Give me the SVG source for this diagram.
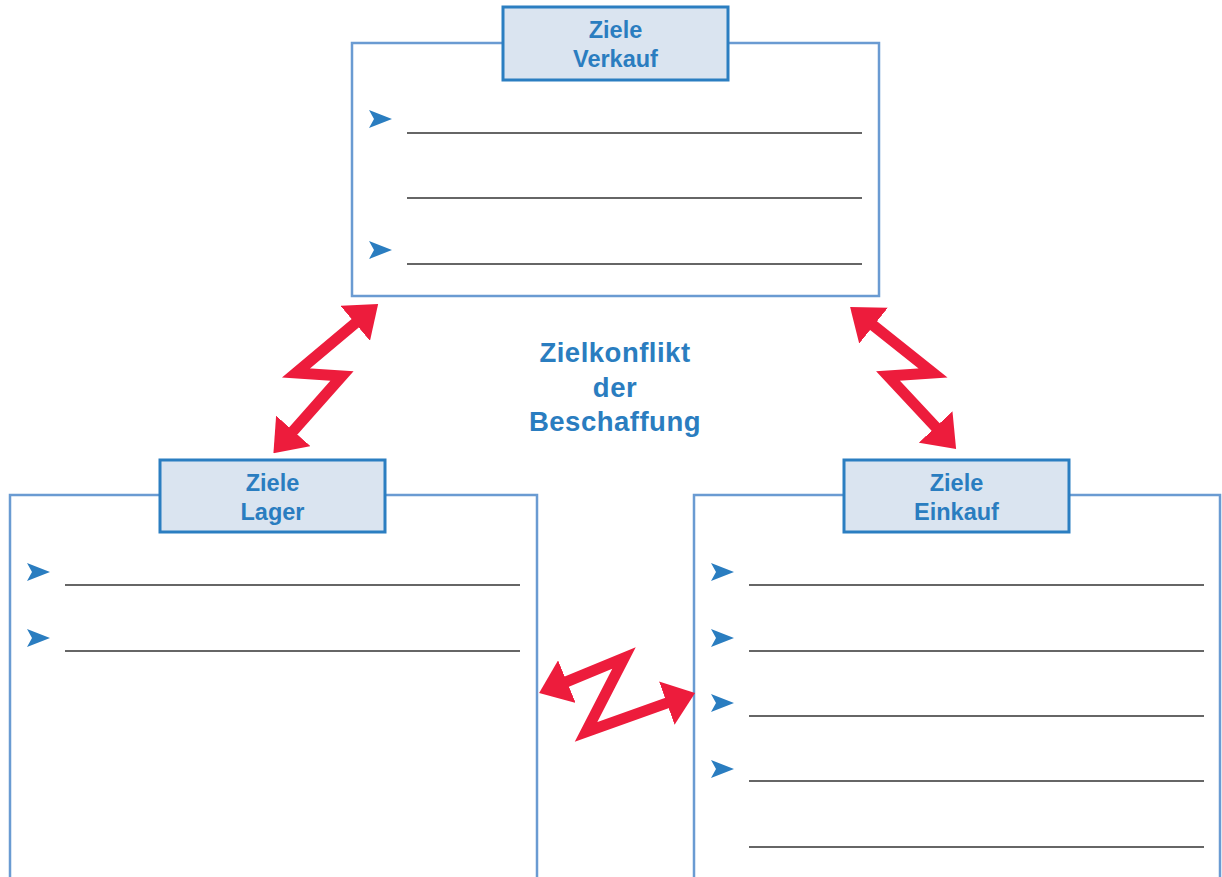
<svg xmlns="http://www.w3.org/2000/svg" xmlns:xlink="http://www.w3.org/1999/xlink" width="1222" height="877" viewBox="0 0 1222 877">
<style>
.box{fill:#ffffff;stroke:#6a9bd2;stroke-width:2.5}
.hdr{fill:#dae4f0;stroke:#2b7ec1;stroke-width:3}
.ht{font-family:"Liberation Sans",Arial,sans-serif;font-weight:bold;font-size:23.5px;fill:#2a7dc0;text-anchor:middle}
.ct{font-family:"Liberation Sans",Arial,sans-serif;font-weight:bold;font-size:27.5px;fill:#2a7dc0;text-anchor:middle;letter-spacing:0.5px}
.ln{stroke:#333333;stroke-width:1.5}
.bul{fill:#2a7dc0}
.conn{fill:none;stroke:#ed1c3c;stroke-width:11;stroke-linejoin:miter;stroke-miterlimit:6}
</style>
<defs>
<path id="bullet" d="M0,-9 L23,0 L0,9 L5,0 Z"/>
<marker id="ah" markerUnits="userSpaceOnUse" viewBox="0 0 30 46" markerWidth="30" markerHeight="46" refX="2" refY="23" orient="auto-start-reverse">
<path d="M0,0 L30,23 L0,46 Z" fill="#ed1c3c"/>
</marker>
</defs>
<rect width="1222" height="877" fill="#ffffff"/>

<g id="verkauf">
<rect class="box" x="352" y="43" width="527" height="253"/>
<rect class="hdr" x="503" y="7" width="225" height="73"/>
<text class="ht" x="615.5" y="38">Ziele</text>
<text class="ht" x="615.5" y="67">Verkauf</text>
<use xlink:href="#bullet" class="bul" x="369" y="119"/>
<use xlink:href="#bullet" class="bul" x="369" y="250"/>
<line class="ln" x1="407" y1="133" x2="862" y2="133"/>
<line class="ln" x1="407" y1="198" x2="862" y2="198"/>
<line class="ln" x1="407" y1="264" x2="862" y2="264"/>
</g>

<g id="lager">
<rect class="box" x="10" y="495" width="527" height="420"/>
<rect class="hdr" x="160" y="460" width="225" height="72"/>
<text class="ht" x="272.5" y="491">Ziele</text>
<text class="ht" x="272.5" y="520">Lager</text>
<use xlink:href="#bullet" class="bul" x="27" y="572"/>
<use xlink:href="#bullet" class="bul" x="27" y="638"/>
<line class="ln" x1="65" y1="585" x2="520" y2="585"/>
<line class="ln" x1="65" y1="651" x2="520" y2="651"/>
</g>

<g id="einkauf">
<rect class="box" x="694" y="495" width="526" height="420"/>
<rect class="hdr" x="844" y="460" width="225" height="72"/>
<text class="ht" x="956.5" y="491">Ziele</text>
<text class="ht" x="956.5" y="520">Einkauf</text>
<use xlink:href="#bullet" class="bul" x="711" y="572"/>
<use xlink:href="#bullet" class="bul" x="711" y="638"/>
<use xlink:href="#bullet" class="bul" x="711" y="703"/>
<use xlink:href="#bullet" class="bul" x="711" y="769"/>
<line class="ln" x1="749" y1="585" x2="1204" y2="585"/>
<line class="ln" x1="749" y1="651" x2="1204" y2="651"/>
<line class="ln" x1="749" y1="716" x2="1204" y2="716"/>
<line class="ln" x1="749" y1="781" x2="1204" y2="781"/>
<line class="ln" x1="749" y1="847" x2="1204" y2="847"/>
</g>

<g id="title">
<text class="ct" x="615" y="362">Zielkonflikt</text>
<text class="ct" x="615" y="397">der</text>
<text class="ct" x="615" y="431">Beschaffung</text>
</g>

<g id="connectors">
<path class="conn" d="M292,432.4 L342,376 L296,373 L356.7,322" marker-start="url(#ah)" marker-end="url(#ah)"/>
<path class="conn" d="M872,324.4 L933,373 L888,376 L937,428.5" marker-start="url(#ah)" marker-end="url(#ah)"/>
<path class="conn" d="M565,682.4 L624,658 L586,732 L668.7,702.4" marker-start="url(#ah)" marker-end="url(#ah)"/>
</g>
</svg>
